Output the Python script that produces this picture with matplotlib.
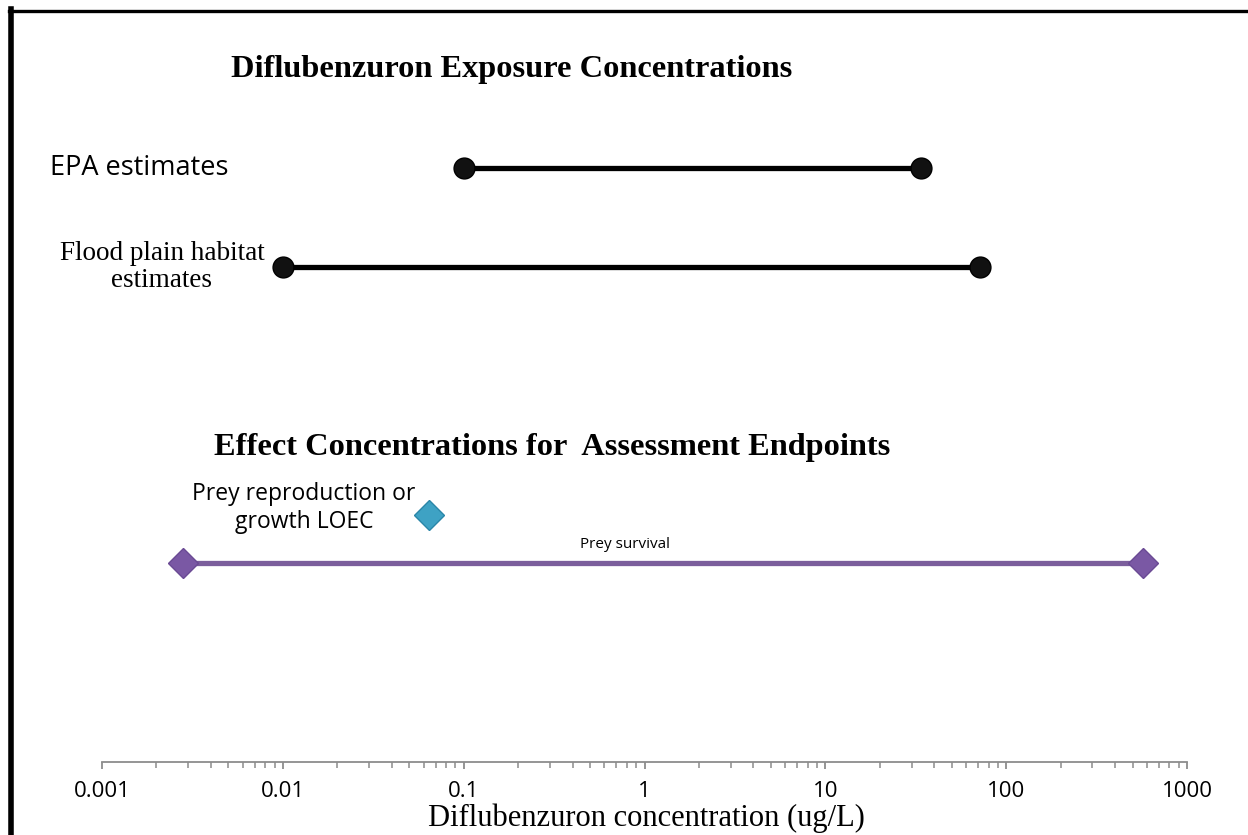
import matplotlib.pyplot as plt
from matplotlib.lines import Line2D

# exposure ranges (ug/L)
exposure_labels = ["EPA estimates", "Flood plain habitat\nestimates"]
exposure_low = [0.1, 0.01]
exposure_high = [34, 72]

# effect concentrations (ug/L)
loec_label = "Prey reproduction or\ngrowth LOEC"
loec_value = 0.064
survival_label = "Prey survival"
survival_low = 0.0028
survival_high = 570

tick_values = [0.001, 0.01, 0.1, 1, 10, 100, 1000]
tick_labels = ["0.001", "0.01", "0.1", "1", "10", "100", "1000"]

# vertical layout rows (axis units, 0 = axis line)
row_y = [7.92, 6.6]
loec_y = 3.29
survival_y = 2.65

fig = plt.figure(figsize=(12.48, 8.35), dpi=100)
W, H = 1248, 835
ax = fig.add_axes([102 / W, (H - 762) / H, (1187 - 102) / W, 750 / H])
ax.set_xscale("log")
ax.set_xlim(0.001, 1000)
ax.set_ylim(0, 10)

for lo, hi, y in zip(exposure_low, exposure_high, row_y):
    ax.plot([lo, hi], [y, y], color="black", lw=3.8, marker="o", ms=15,
            mfc="#111111", mec="black", solid_capstyle="butt", zorder=3)

ax.plot([survival_low, survival_high], [survival_y, survival_y], color="#7b5e9c", lw=3.8,
        marker="D", ms=15, mfc="#7a58a4", mec="#6a4a94", zorder=3)
ax.plot([loec_value], [loec_y], marker="D", ms=15, color="#3ea2c4", mec="#2a86a8", ls="none", zorder=3)

# axis styling: only bottom spine, grey
for s in ["left", "right", "top"]:
    ax.spines[s].set_visible(False)
ax.spines["bottom"].set_color("#8c8c8c")
ax.spines["bottom"].set_linewidth(1.3)
ax.set_yticks([])
ax.set_xticks(tick_values)
ax.set_xticklabels(tick_labels, fontfamily="Open Sans", fontsize=16)
ax.tick_params(axis="x", which="major", direction="out", length=5, width=1.3, color="#8c8c8c", pad=9)
ax.tick_params(axis="x", which="minor", direction="out", length=4, width=1.1, color="#8c8c8c")
ax.patch.set_alpha(0)

# labels
fig.text(50 / W, 1 - 168 / H, exposure_labels[0], fontfamily="Open Sans", fontsize=19.5, va="center", ha="left")
fig.text(162 / W, 1 - 267 / H, exposure_labels[1], fontfamily="Liberation Serif", fontsize=19.5,
         va="center", ha="center", linespacing=1.15)
fig.text(304 / W, 1 - 508 / H, loec_label, fontfamily="Open Sans", fontsize=16.5, va="center", ha="center",
         linespacing=1.2)
fig.text(625 / W, 1 - 545 / H, survival_label, fontfamily="Open Sans", fontsize=11, va="center", ha="center")

fig.text(512 / W, 1 - 70 / H, "Diflubenzuron Exposure Concentrations", fontfamily="Liberation Serif",
         fontweight="bold", fontsize=23.3, va="center", ha="center")
fig.text(552 / W, 1 - 447 / H, "Effect Concentrations for  Assessment Endpoints", fontfamily="Liberation Serif",
         fontweight="bold", fontsize=23.3, va="center", ha="center")
fig.text(646 / W, 2 / H, "Diflubenzuron concentration (ug/L)", fontfamily="Liberation Serif",
         fontsize=22, va="bottom", ha="center")

# outer frame (left and top edges visible)
fig.add_artist(Line2D([11 / W, 11 / W], [0, 1 - 9 / H], color="black", lw=4, transform=fig.transFigure))
fig.add_artist(Line2D([9 / W, 1], [1 - 10.5 / H, 1 - 10.5 / H], color="black", lw=2.4, transform=fig.transFigure))

fig.savefig("out.png", dpi=100)
